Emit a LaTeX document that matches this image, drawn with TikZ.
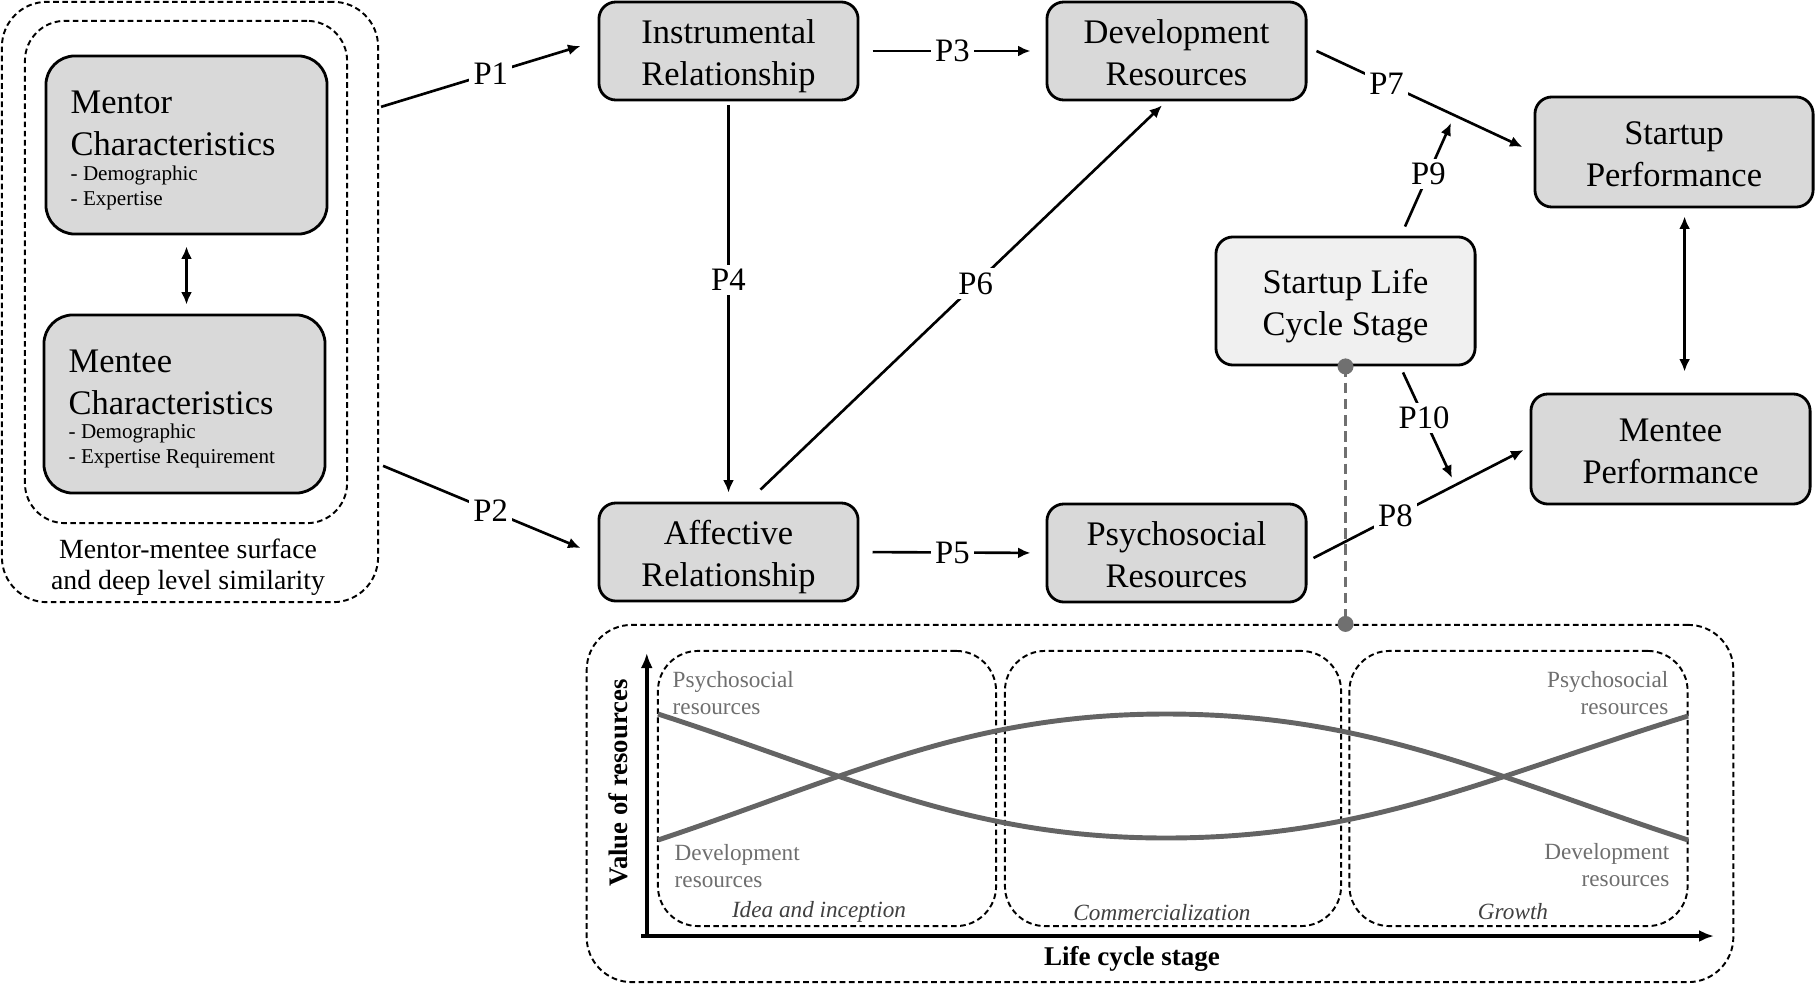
\documentclass[tikz,border=0pt]{standalone}
\usepackage{fontspec}
\setmainfont{Liberation Serif}
\usetikzlibrary{arrows.meta,calc}
\definecolor{boxgray}{HTML}{D9D9D9}
\definecolor{lightbox}{HTML}{F0F0F0}
\definecolor{curvegray}{HTML}{646464}
\definecolor{textgray}{HTML}{6E6E6E}
\definecolor{linkgray}{HTML}{707070}
\newcommand\fmain{\fontsize{9.8}{12}\selectfont}
\newcommand\fsub{\fontsize{6}{7.2}\selectfont}
\newcommand\fPlab{\fontsize{9.3}{11}\selectfont}
\newcommand\fsim{\fontsize{7.9}{8.8}\selectfont}
\newcommand\fpanel{\fontsize{6.6}{7.6}\selectfont}
\newcommand\bxs{\rule[-2.2pt]{0pt}{12pt}}
\begin{document}
\begin{tikzpicture}[x=0.01cm,y=-0.01cm,
  rbox/.style={draw, line width=0.8pt, fill=boxgray, rounded corners=1.7mm, align=center, inner sep=0pt, font=\fmain},
  bigbox/.style={rbox, rounded corners=2.9mm, minimum width=2.81cm, minimum height=1.78cm},
  dbox/.style={draw, line width=0.55pt, dash pattern=on 1.6pt off 1pt, rounded corners=4.5mm, inner sep=0pt},
  arr/.style={line width=0.75pt, -{Latex[length=1.25mm,width=1.1mm]}},
  dblarr/.style={line width=0.75pt, {Latex[length=1.25mm,width=1.1mm]}-{Latex[length=1.25mm,width=1.1mm]}},
  plab/.style={fill=white, inner sep=1.2pt, font=\fPlab},
  txt/.style={inner sep=0pt},
  ptxt/.style={inner sep=0pt, text=textgray, font=\fpanel},
  stagelab/.style={inner sep=0pt, text=black!75, font=\fpanel\itshape},
  curve/.style={line width=1.4pt, draw=curvegray},
  axis/.style={line width=1pt, -{Latex[length=1.5mm,width=1.2mm]}},
  dot/.style={circle, fill=linkgray, inner sep=0pt, minimum size=1.6mm},
]
\useasboundingbox (0,0) rectangle (1816,985);

% left group
\node[dbox, minimum width=3.76cm, minimum height=6.0cm] (outer) at (190,302) {};
\node[dbox, rounded corners=4mm, minimum width=3.22cm, minimum height=5.02cm] (inner) at (186,272) {};
\node[bigbox] (mentor) at (186.5,145) {};
\node[bigbox] (mentee) at (184.5,404) {};
\node[txt, anchor=west, align=left, font=\fmain] (mentorT) at (70,123) {Mentor\\Characteristics};
\node[txt, anchor=west, align=left, font=\fsub] (mentorL) at (70,188) {- Demographic\\- Expertise};
\node[txt, anchor=west, align=left, font=\fmain] (menteeT) at (68,382) {Mentee\\Characteristics};
\node[txt, anchor=west, align=left, font=\fsub] (menteeL) at (68,446) {- Demographic\\- Expertise Requirement};
\node[txt, align=center, font=\fsim] (simT) at (188,567) {Mentor-mentee surface\\and deep level similarity};
\draw[dblarr, shorten <=1.1mm, shorten >=0.9mm] (mentor.south) -- (mentor.south |- mentee.north);

% main boxes
\node[rbox, minimum width=2.59cm, minimum height=0.98cm] (instr) at (728.5,51) {Instrumental\bxs\\Relationship\bxs};
\node[rbox, minimum width=2.59cm, minimum height=0.98cm] (devres) at (1176.5,51) {Development\bxs\\Resources\bxs};
\node[rbox, minimum width=2.59cm, minimum height=0.98cm] (affect) at (728.5,552) {Affective\bxs\\Relationship\bxs};
\node[rbox, minimum width=2.59cm, minimum height=0.98cm] (psych) at (1176.5,553) {Psychosocial\bxs\\Resources\bxs};
\node[rbox, minimum width=2.78cm, minimum height=1.10cm] (startperf) at (1674,152) {Startup\bxs\\Performance\bxs};
\node[rbox, minimum width=2.79cm, minimum height=1.10cm] (menteeperf) at (1670.5,449) {Mentee\bxs\\Performance\bxs};
\node[rbox, fill=lightbox, minimum width=2.59cm, minimum height=1.28cm] (slcs) at (1345.5,301) {Startup Life\bxs\\Cycle Stage\bxs};

% connectors
\draw[arr] ([shift={(2,106)}]outer.north east) -- node[plab, pos=0.55] (p1) {P1} ([shift={(-17,-5)}]instr.west);
\draw[arr] ([shift={(4,465)}]outer.north east) -- node[plab, pos=0.545] (p2) {P2} ([shift={(-17,-4)}]affect.west);
\draw[arr, shorten <=1.3mm, shorten >=1.5mm] (instr.east) -- node[plab] (p3) {P3} (devres.west);
\draw[arr, shorten <=1.3mm, shorten >=1.5mm] (affect.east) -- node[plab] (p5) {P5} (psych.west);
\draw[arr, shorten <=0.4mm, shorten >=0.9mm] (instr.south) -- node[plab, pos=0.446] (p4) {P4} (instr.south |- affect.north);
\draw[arr] ([shift={(32,-12)}]affect.north) -- node[plab, pos=0.536] (p6) {P6} ([shift={(-14.5,4)}]devres.south);
\draw[arr] ([shift={(9,0)}]devres.east) -- node[plab, pos=0.34] (p7) {P7} ([shift={(-11,-5)}]startperf.west);
\draw[arr] ([shift={(6,5)}]psych.east) -- node[plab, pos=0.39] (p8) {P8} ([shift={(-6,1)}]menteeperf.west);
\coordinate (p9end) at (1451,123);
\coordinate (p10end) at (1452,478);
\draw[arr] ([shift={(59.5,-9)}]slcs.north) -- node[plab, pos=0.51] (p9) {P9} (p9end);
\draw[arr] ([shift={(57.5,6)}]slcs.south) -- node[plab, pos=0.43] (p10) {P10} (p10end);
\draw[dblarr, shorten <=0.8mm, shorten >=2.1mm] ([xshift=3]startperf.south) -- ([xshift=3]startperf.south |- menteeperf.north);

% bottom panel
\node[dbox, minimum width=11.46cm, minimum height=3.57cm] (panel) at (1160,803.5) {};
\node[dbox, rounded corners=4mm, minimum width=3.38cm, minimum height=2.75cm] (st1) at (827,788.5) {};
\node[dbox, rounded corners=4mm, minimum width=3.36cm, minimum height=2.75cm] (st2) at (1173,788.5) {};
\node[dbox, rounded corners=4mm, minimum width=3.38cm, minimum height=2.75cm] (st3) at (1518.5,788.5) {};
\draw[linkgray, line width=0.9pt, dash pattern=on 3pt off 1.6pt] (slcs.south) -- (slcs.south |- panel.north);
\node[dot] (dtop) at (slcs.south) {};
\node[dot] (dbot) at (slcs.south |- panel.north) {};

% curves
\draw[curve] (658,714) .. controls (850,776) and (968,838) .. (1166,838)
  .. controls (1369,838) and (1492,776) .. (1688,716);
\draw[curve] (658,840) .. controls (850,776) and (968,714) .. (1166,714)
  .. controls (1369,714) and (1492,776) .. (1688,840);

% axes
\coordinate (origin) at (645,936);
\draw[axis] ([xshift=0.5]origin) -- ++(0,-283);
\draw[axis] ([xshift=-1]origin) -- (1714,936);
\node[txt, rotate=90, font=\fontsize{7.6}{9}\selectfont\bfseries] (ylab) at (618,783) {Value of resources};
\node[txt, font=\fontsize{7.7}{9}\selectfont\bfseries] (xlab) at (1132,959) {Life cycle stage};

% panel labels
\node[ptxt, anchor=west, align=left] (psyL) at (672,693) {Psychosocial\\resources};
\node[ptxt, anchor=east, align=right] (psyR) at (1669,693) {Psychosocial\\resources};
\node[ptxt, anchor=west, align=left] (devL) at (674,866) {Development\\resources};
\node[ptxt, anchor=east, align=right] (devR) at (1670,865) {Development\\resources};
\node[stagelab] (s1) at (819,912) {Idea and inception};
\node[stagelab] (s2) at (1162,913) {Commercialization};
\node[stagelab] (s3) at (1513,912) {Growth};
\end{tikzpicture}
\end{document}
